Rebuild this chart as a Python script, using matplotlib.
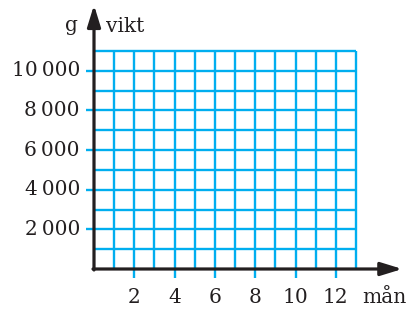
import numpy as np
import matplotlib
matplotlib.use('Agg')
import matplotlib.pyplot as plt

# data
months = list(range(0, 14))          # grid columns 0..13
grams = list(range(0, 12000, 1000))  # grid rows 0..11000
x_ticks = [2, 4, 6, 8, 10, 12]
y_ticks = [2000, 4000, 6000, 8000, 10000]
y_labels = ['2\u2009000', '4\u2009000', '6\u2009000', '8\u2009000', '10\u2009000']

blue = '#00aeef'
ink = '#231f20'
font = 'DejaVu Serif'
fs = 14.5

fig = plt.figure(figsize=(4.14, 3.11), dpi=100)
ax = fig.add_axes([0, 0, 1, 1])
ax.axis('off')
# pixel mapping: origin at (94, 269), 20.15 px / month, 19.82 px / 1000 g
ax.set_xlim(-94 / 20.15, (414 - 94) / 20.15)
ax.set_ylim((269 - 311) / 19.82 * 1000, 269 / 19.82 * 1000)

ax.vlines(months[1:], 0, grams[-1], color=blue, lw=1.7)
ax.hlines(grams[1:], 0, months[-1], color=blue, lw=1.7)
# ticks
ax.vlines(x_ticks, -450, 0, color=blue, lw=1.7)
ax.hlines(y_ticks, -0.4, 0, color=blue, lw=1.7)

# axes with arrows
arrow = dict(arrowstyle='-|>,head_length=0.65,head_width=0.2',
             mutation_scale=20, lw=2.3, color=ink, shrinkA=0, shrinkB=0)
ax.annotate('', xy=(15.3, 0), xytext=(-0.05, 0), arrowprops=arrow)
ax.annotate('', xy=(0, 13320), xytext=(0, -50), arrowprops=arrow)

for x in x_ticks:
    ax.text(x, -1463, str(x), ha='center', va='center', fontsize=fs,
            family=font, color=ink)
for y, lab in zip(y_ticks, y_labels):
    ax.text(-0.7, y, lab, ha='right', va='center', fontsize=fs,
            family=font, color=ink)

ax.text(-1.1, 12300, 'g', ha='center', va='center', fontsize=fs,
        family=font, color=ink)
ax.text(0.62, 12250, 'vikt', ha='left', va='center', fontsize=fs,
        family=font, color=ink)
ax.text(13.3, -1463, 'mån', ha='left', va='center', fontsize=fs,
        family=font, color=ink)

fig.savefig('out.png', dpi=100)
